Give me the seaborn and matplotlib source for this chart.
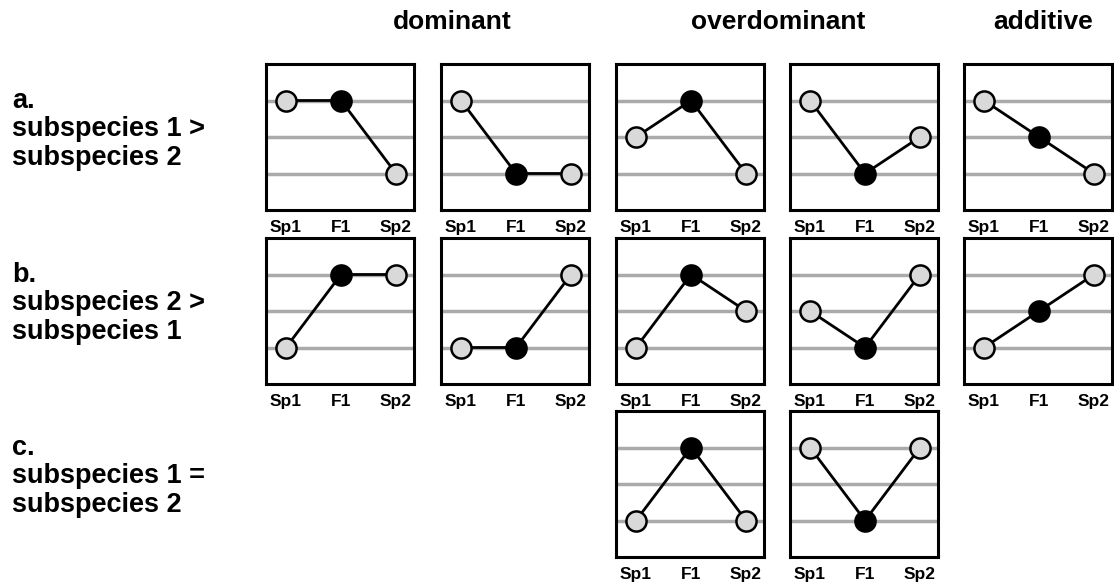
import numpy as np
import pandas as pd
import matplotlib
matplotlib.use("Agg")
import matplotlib.pyplot as plt
import seaborn as sns

sns.set_style("white")
plt.rcParams["font.family"] = ["Liberation Sans", "DejaVu Sans"]
plt.rcParams["font.weight"] = "bold"
plt.rcParams["text.color"] = "black"
plt.rcParams["xtick.color"] = "black"

# chart values
generations = ["Sp1", "F1", "Sp2"]
group_titles = ["dominant", "overdominant", "additive"]
row_labels = ["a.\nsubspecies 1 >\nsubspecies 2",
              "b.\nsubspecies 2 >\nsubspecies 1",
              "c.\nsubspecies 1 =\nsubspecies 2"]

# (row, col) -> expression levels for Sp1, F1, Sp2
panels = {
    (0, 0): [3, 3, 1],
    (0, 1): [3, 1, 1],
    (0, 2): [2, 3, 1],
    (0, 3): [3, 1, 2],
    (0, 4): [3, 2, 1],
    (1, 0): [1, 3, 3],
    (1, 1): [1, 1, 3],
    (1, 2): [1, 3, 2],
    (1, 3): [2, 1, 3],
    (1, 4): [1, 2, 3],
    (2, 2): [1, 3, 1],
    (2, 3): [3, 1, 3],
}
levels = [1, 2, 3]
point_colors = ["#d9d9d9", "black", "#d9d9d9"]

W, H = 1114, 586
fig = plt.figure(figsize=(W / 100, H / 100), dpi=100)

col_left = [266, 441, 616, 790, 964]
row_top = [64, 238, 411]
pw, ph = 148, 146


def px_axes(x, y, w, h):
    return fig.add_axes([x / W, 1 - (y + h) / H, w / W, h / H])


for (r, c), vals in panels.items():
    ax = px_axes(col_left[c], row_top[r], pw, ph)
    df = pd.DataFrame({"x": np.arange(3), "y": vals, "gen": generations})
    for lv in levels:
        ax.axhline(lv, color="#aaaaaa", lw=2.5, zorder=1)
    sns.lineplot(data=df, x="x", y="y", ax=ax, color="black", lw=2, zorder=2)
    for i in range(3):
        ax.plot(df["x"][i], df["y"][i], marker="o", ms=14.5,
                mfc=point_colors[i], mec="black", mew=1.8, zorder=4)
    ax.set_xlim(-0.364, 2.327)
    ax.set_ylim(0, 4)
    ax.set_xticks(range(3))
    ax.set_xticklabels(generations, fontsize=12.5, fontweight="bold")
    ax.set_yticks([])
    ax.tick_params(axis="x", length=0, pad=7)
    ax.set_xlabel("")
    ax.set_ylabel("")
    for s in ax.spines.values():
        s.set_visible(True)
        s.set_color("black")
        s.set_linewidth(2.2)

title_x = [452, 778, 1043]
for t, x in zip(group_titles, title_x):
    fig.text(x / W, 1 - 22 / H, t, ha="center", va="center",
             fontsize=19, fontweight="bold")

label_y = [88, 262, 435]
for lab, y in zip(row_labels, label_y):
    fig.text(12 / W, 1 - y / H, lab, ha="left", va="top",
             fontsize=19.5, fontweight="bold", linespacing=1.12)

fig.savefig("out.png", dpi=100)
